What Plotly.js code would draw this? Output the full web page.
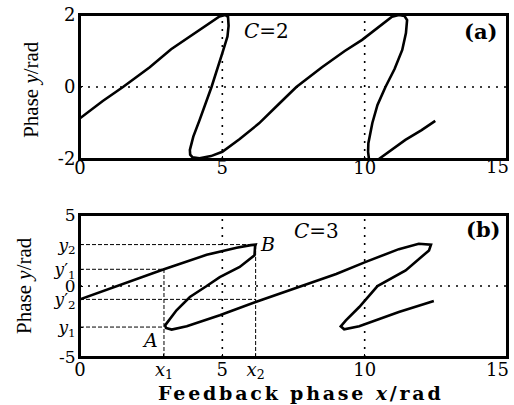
<!DOCTYPE html>
<html>
<head>
<meta charset="utf-8">
<script src="https://cdn.plot.ly/plotly-3.0.1.min.js"></script>
<style>
html,body{margin:0;padding:0;background:#fff;}
#chart{width:514px;height:405px;}
</style>
</head>
<body>
<div id="chart"></div>
<script>
// ---- Panel (a), C = 2 ----
var topX = [0, 0.8, 1.51, 2.45, 3.2, 3.85, 4.3, 4.6, 4.9, 5.1, 5.2, 5.22, 5.18, 5.0, 4.62, 4.2, 3.98, 3.86, 3.87, 3.95, 4.2, 4.6, 5.0, 5.6, 6.29, 6.95, 7.6, 8.5, 9.3, 9.91, 10.5, 10.96, 11.2, 11.4, 11.49, 11.45, 11.32, 11.05, 10.73, 10.45, 10.27, 10.13, 10.12, 10.15];
var topY = [-0.87, -0.39, 0, 0.55, 1.05, 1.4, 1.65, 1.82, 1.96, 2.0, 1.95, 1.7, 1.4, 0.94, 0, -0.92, -1.38, -1.75, -1.88, -1.95, -1.98, -1.92, -1.8, -1.45, -1.01, -0.5, 0, 0.55, 1.0, 1.31, 1.68, 1.95, 2.0, 1.97, 1.86, 1.5, 1.03, 0.5, 0, -0.5, -1.0, -1.56, -1.8, -2.0];
var topTailX = [10.5, 11.0, 11.43, 12.0, 12.48];
var topTailY = [-2.0, -1.72, -1.47, -1.2, -0.94];
var topXTicks = [0, 5, 10, 15];
var topXTickText = ["0", "5", "10", ""];
var topYTicks = [-2, 0, 2];
var topYTickText = ["-2", "0", "2"];

// ---- Panel (b), C = 3 ----
var botX = [0, 1.5, 2.95, 4.45, 5.5, 6.0, 6.17, 6.15, 6.13, 5.61, 4.91, 4.45, 3.86, 3.39, 3.1, 2.99, 3.02, 3.22, 3.75, 4.91, 6.17, 7.0, 7.82, 9.0, 10.04, 11.2, 11.9, 12.33, 12.26, 11.44, 10.45, 9.81, 9.34, 9.16, 9.28, 9.81, 11.2, 12.43];
var botY = [-0.94, 0.15, 1.18, 2.2, 2.7, 2.88, 2.92, 2.8, 2.16, 1.34, 0.63, 0, -0.77, -1.71, -2.42, -2.77, -2.95, -3.07, -2.84, -2.06, -1.13, -0.55, 0, 0.85, 1.7, 2.6, 2.98, 2.92, 2.51, 1.1, 0, -1.48, -2.42, -2.84, -3.05, -2.84, -1.83, -1.06];
var x1 = 2.95, x2 = 6.17;
var y1 = -2.89, y2 = 2.92, y1p = 1.18, y2p = -0.94;
var botXTicks = [0, x1, 5, x2, 10, 15];
var botXTickText = ["0", "<i>x</i><sub>1</sub>", "5", "<i>x</i><sub>2</sub>", "10", ""];
var botYTicks = [-5, y1, y2p, 0, y1p, y2, 5];
var botYTickText = ["-5", "<i>y</i><sub>1</sub>", "<i>y</i>′<sub>2</sub>", "0", "<i>y</i>′<sub>1</sub>", "<i>y</i><sub>2</sub>", "5"];
var lastXLabel = "15";
var gridX = [5, 10];
var gridY = [0];

// guide lines built from the named values
var guideX = [0, x2, null, 0, x1, null, 0, x2, null, 0, x1, null, x1, x1, null, x2, x2];
var guideY = [y2, y2, null, y1p, y1p, null, y2p, y2p, null, y1, y1, null, -5, y1p, null, -5, y2];

var curveLine = {color: '#000', width: 2.6};
var traces = [
  {x: topX, y: topY, xaxis: 'x', yaxis: 'y', mode: 'lines', line: curveLine, hoverinfo: 'skip'},
  {x: topTailX, y: topTailY, xaxis: 'x', yaxis: 'y', mode: 'lines', line: curveLine, hoverinfo: 'skip'},
  {x: guideX, y: guideY, xaxis: 'x2', yaxis: 'y2', mode: 'lines', line: {color: '#000', width: 1, dash: '4px,2px'}, hoverinfo: 'skip'},
  {x: botX, y: botY, xaxis: 'x2', yaxis: 'y2', mode: 'lines', line: curveLine, hoverinfo: 'skip'}
];

var tickFont = {family: 'DejaVu Serif', size: 18, color: '#000'};
function xax(anchor, vals, text, standoff) {
  return {anchor: anchor, domain: [0, 1], range: [0, 15], tickmode: 'array', tickvals: vals, ticktext: text,
    showgrid: false, zeroline: false, showline: true, linewidth: 2, linecolor: '#000', mirror: true,
    ticks: 'inside', ticklen: 3, tickwidth: 1, tickcolor: '#000', tickfont: tickFont, fixedrange: true,
    ticklabeloverflow: 'allow', ticklabelstandoff: standoff};
}
function yax(anchor, dom, rng, vals, text, size) {
  return {anchor: anchor, domain: dom, range: rng, tickmode: 'array', tickvals: vals, ticktext: text,
    showgrid: false, zeroline: false, showline: true, linewidth: 2, linecolor: '#000', mirror: true,
    ticks: 'inside', ticklen: 3, tickwidth: 1, tickcolor: '#000',
    tickfont: {family: 'DejaVu Serif', size: size, color: '#000'}, fixedrange: true,
    ticklabeloverflow: 'allow', ticklabelstandoff: -1};
}

var shapes = [];
var dotLine = {color: '#000', width: 1.6, dash: '2px,6px'};
[['x', 'y'], ['x2', 'y2']].forEach(function (p) {
  gridX.forEach(function (g) {
    shapes.push({type: 'line', xref: p[0], yref: p[1] + ' domain', x0: g, x1: g, y0: 0, y1: 1, line: dotLine, layer: 'below'});
  });
  gridY.forEach(function (g) {
    shapes.push({type: 'line', xref: p[0] + ' domain', yref: p[1], x0: 0, x1: 1, y0: g, y1: g, line: dotLine, layer: 'below'});
  });
  shapes.push({type: 'rect', xref: p[0] + ' domain', yref: p[1] + ' domain', x0: 0, x1: 1, y0: 0, y1: 1, line: {color: '#000', width: 2}, layer: 'above'});
});

var serif = 'DejaVu Serif';
function ann(xref, yref, x, y, text, font, extra) {
  var a = {xref: xref, yref: yref, x: x, y: y, text: text, showarrow: false, xanchor: 'center', yanchor: 'middle', font: font};
  if (extra) { for (var k in extra) a[k] = extra[k]; }
  return a;
}
var annotations = [
  ann('x domain', 'y domain', 0.436, 0.889, '<i>C</i>=2', {family: serif, size: 20, color: '#000'}),
  ann('x domain', 'y domain', 0.939, 0.882, '<b>(a)</b>', {family: serif, size: 21, color: '#000'}),
  ann('x2 domain', 'y2 domain', 0.555, 0.887, '<i>C</i>=3', {family: serif, size: 20, color: '#000'}),
  ann('x2 domain', 'y2 domain', 0.944, 0.901, '<b>(b)</b>', {family: serif, size: 21, color: '#000'}),
  ann('x2 domain', 'y2 domain', 0.439, 0.796, '<i>B</i>', {family: serif, size: 19, color: '#000'}),
  ann('x2 domain', 'y2 domain', 0.163, 0.12, '<i>A</i>', {family: serif, size: 19, color: '#000'}),
  ann('paper', 'paper', 0.9766, 0.556, lastXLabel, tickFont),
  ann('paper', 'paper', 0.9766, -0.038, lastXLabel, tickFont),
  ann('paper', 'paper', -0.1148, 0.784, 'Phase <i>y</i>/rad', {family: 'Liberation Serif', size: 21, color: '#000'}, {textangle: -90}),
  ann('paper', 'paper', -0.131, 0.208, 'Phase <i>y</i>/rad', {family: 'Liberation Serif', size: 21, color: '#000'}, {textangle: -90}),
  ann('paper', 'paper', 0.5176, -0.104, '<span style="letter-spacing:2.8px">Feedback phase <i>x</i>/rad</span>', {family: serif, size: 19, color: '#000', weight: 'bold'})
];

var layout = {
  width: 514, height: 405,
  margin: {l: 80, r: 7, t: 15, b: 48},
  paper_bgcolor: '#fff', plot_bgcolor: '#fff',
  showlegend: false,
  xaxis: xax('y', topXTicks, topXTickText, -9),
  yaxis: yax('x', [0.579, 1], [-2, 2], topYTicks, topYTickText, 18),
  xaxis2: xax('y2', botXTicks, botXTickText, -5),
  yaxis2: yax('x2', [0, 0.415], [-5, 5], botYTicks, botYTickText, 17),
  shapes: shapes,
  annotations: annotations
};

Plotly.newPlot('chart', traces, layout, {staticPlot: true, displayModeBar: false});
</script>
</body>
</html>
